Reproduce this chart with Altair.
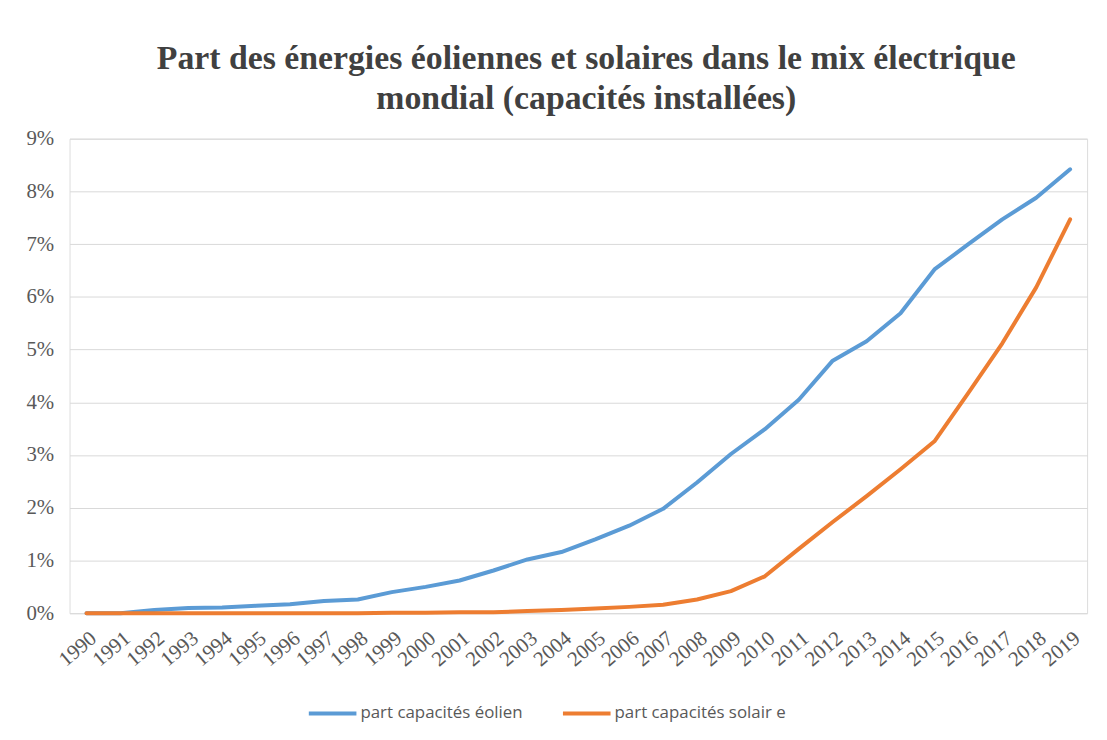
import altair as alt
import pandas as pd

years = [str(y) for y in range(1990, 2020)]
eolien = [0, 0, 0.06, 0.1, 0.11, 0.14, 0.17, 0.23, 0.26, 0.4, 0.5, 0.62, 0.81, 1.02, 1.16,
          1.4, 1.66, 1.98, 2.48, 3.02, 3.49, 4.05, 4.79, 5.16, 5.69, 6.52, 7.0, 7.47, 7.88, 8.42]
solaire = [0, 0, 0, 0, 0, 0, 0, 0, 0, 0.01, 0.01, 0.02, 0.02, 0.04, 0.06,
           0.09, 0.12, 0.16, 0.26, 0.42, 0.7, 1.22, 1.73, 2.22, 2.73, 3.26, 4.18, 5.12, 6.18, 7.47]
series_names = ["part capacités éolien", "part capacités solair e"]
colors = ["#5B9BD5", "#ED7D31"]
y_ticks = list(range(0, 10))

rows = []
for name, vals in zip(series_names, [eolien, solaire]):
    for y, v in zip(years, vals):
        rows.append({"annee": y, "part": v, "serie": name})
df = pd.DataFrame(rows)

chart = alt.Chart(df).mark_line(strokeWidth=4, strokeCap="round", strokeJoin="round").encode(
    x=alt.X("annee:O", sort=years,
            scale=alt.Scale(type="point", padding=0.5),
            axis=alt.Axis(title=None, labelAngle=320, labelFont="Liberation Serif",
                          labelFontSize=21, labelColor="#595959", ticks=False, domain=False,
                          labelPadding=14, grid=False)),
    y=alt.Y("part:Q", scale=alt.Scale(domain=[0, 9], nice=False),
            axis=alt.Axis(title=None, values=y_ticks, labelExpr="datum.value + '%'",
                          labelFont="Liberation Serif", labelFontSize=21, labelColor="#595959",
                          ticks=False, domain=False, labelPadding=16,
                          gridColor="#D9D9D9", gridWidth=1)),
    color=alt.Color("serie:N", scale=alt.Scale(domain=series_names, range=colors),
                    legend=alt.Legend(title=None, orient="none", direction="horizontal",
                                      legendX=239, legendY=553, padding=0,
                                      symbolType="stroke", symbolStrokeWidth=4,
                                      symbolSize=2300, labelFont="Open Sans",
                                      labelFontSize=17, labelColor="#595959", labelLimit=0,
                                      labelOffset=2, columnPadding=32)),
).properties(
    width=1025, height=478,
    padding={"left": 62, "top": 129, "right": 12, "bottom": 117},
    autosize=alt.AutoSizeParams(type="none"),
    title=alt.Title(["Part des énergies éoliennes et solaires dans le mix électrique",
                     "mondial (capacités installées)"],
                    font="Liberation Serif", fontSize=34, fontWeight="bold",
                    color="#404040", anchor="middle", lineHeight=40, offset=12, dx=8),
).configure_view(stroke=None).configure(background="white")

chart.save("out.html", embed_options={"renderer": "svg", "actions": False})
